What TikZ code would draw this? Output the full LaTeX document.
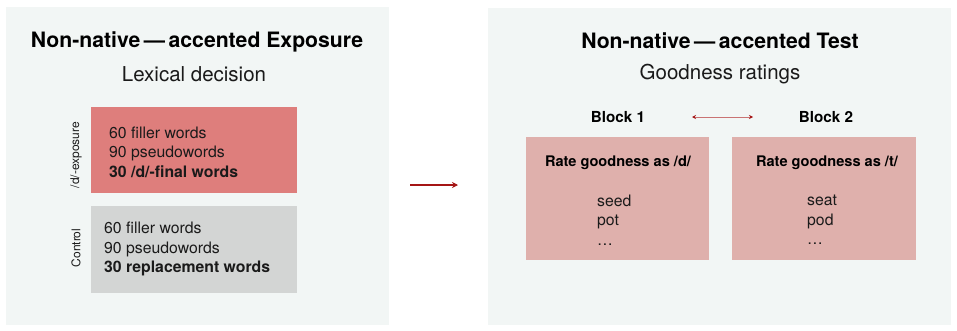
\documentclass[tikz,border=0pt]{standalone}
\usepackage{fontspec}
\setmainfont{TeX Gyre Heros}
\usetikzlibrary{arrows.meta}
\definecolor{panelbg}{HTML}{F2F6F5}
\definecolor{redbox}{HTML}{DE7E7C}
\definecolor{graybox}{HTML}{D3D5D4}
\definecolor{pinkbox}{HTML}{DFB0AC}
\definecolor{arrowred}{HTML}{A51515}
\definecolor{linepink}{HTML}{C97373}
\definecolor{txt}{HTML}{1A1A1A}
\begin{document}
\begin{tikzpicture}[x=1pt,y=-1pt,
  panel/.style={fill=panelbg,draw=none},
  title/.style={font=\bfseries\fontsize{21.2}{24}\selectfont,text=black,inner sep=0},
  subtitle/.style={font=\fontsize{20.5}{23}\selectfont,text=txt,inner sep=0},
  body/.style={font=\fontsize{15.8}{19.5}\selectfont,text=txt,align=left,inner sep=0,anchor=west},
  sidelabel/.style={font=\fontsize{12}{14}\selectfont,text=txt,rotate=90,inner sep=0},
  blocklabel/.style={font=\bfseries\fontsize{15.2}{18}\selectfont,text=black,inner sep=0},
  ratelabel/.style={font=\bfseries\fontsize{14.6}{17}\selectfont,text=black,inner sep=0}
]
\useasboundingbox (0,0) rectangle (957,330);
\fill[white] (0,0) rectangle (957,330);
% panels
\path[panel] (6,7) rectangle (389,325);
\path[panel] (488,8) rectangle (951,325);
% left panel
\node[title] (ltitle) at (197,42) {Non-native\,—\,accented Exposure};
\node[subtitle] (lsub) at (194,74) {Lexical decision};
\fill[redbox] (91,107) rectangle (297,193);
\fill[graybox] (91,206) rectangle (297,293);
\node[body] (redtext) at (109,152) {60 filler words\\90 pseudowords\\\textbf{30 /d/-final words}};
\node[body] (graytext) at (104,249) {60 filler words\\90 pseudowords\\\textbf{30 replacement words}};
\node[sidelabel] (dexp) at (76,155) {/d/-exposure};
\node[sidelabel] (ctrl) at (76,248) {Control};
% middle arrow
\coordinate (ma) at (410,185);
\coordinate (mb) at (458,185);
\draw[arrowred,line width=1.6pt,-{Stealth[length=6pt,width=6pt]}] (ma) -- (mb);
% right panel
\node[title] (rtitle) at (720,41) {Non-native\,—\,accented Test};
\node[subtitle] (rsub) at (720,74) {Goodness ratings};
\node[blocklabel] (b1) at (618,117) {Block 1};
\node[blocklabel] (b2) at (826,117) {Block 2};
\coordinate (da) at (692,117);
\coordinate (db) at (753,117);
\draw[linepink,line width=1pt,{Stealth[length=4pt,width=4pt,color=arrowred]}-{Stealth[length=4pt,width=4pt,color=arrowred]}] (da) -- (db);
\fill[pinkbox] (526,137) rectangle (709,260);
\fill[pinkbox] (732,137) rectangle (916,260);
\node[ratelabel] (r1) at (618,163) {Rate goodness as /d/};
\node[ratelabel] (r2) at (827,163) {Rate goodness as /t/};
\node[body] (w1) at (597,220) {seed\\pot\\…};
\node[body] (w2) at (807,220) {seat\\pod\\…};
\end{tikzpicture}
\end{document}
